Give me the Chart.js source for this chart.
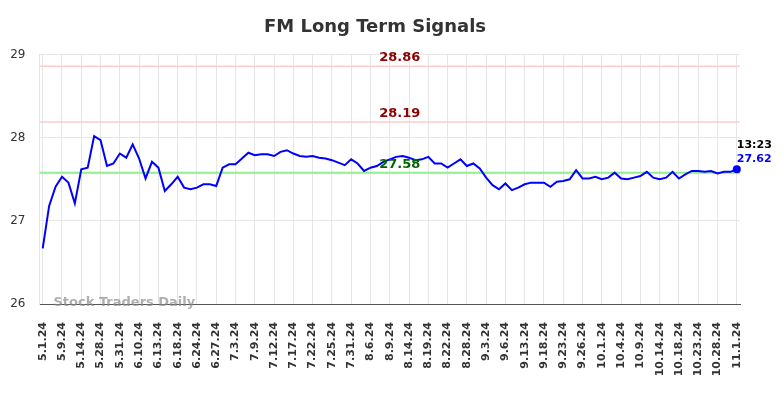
<!DOCTYPE html>
<html><head><meta charset="utf-8">
<script src="https://cdn.jsdelivr.net/npm/chart.js@4.4.1/dist/chart.umd.min.js"></script>
<style>html,body{margin:0;padding:0;background:#fff}</style>
</head><body>
<canvas id="c" width="784" height="398"></canvas>
<script>
const dates = [
"5.1.24","5.3.24","5.7.24","5.9.24","5.10.24","5.13.24","5.14.24","5.20.24","5.23.24",
"5.28.24","5.29.24","5.30.24","5.31.24","6.4.24","6.6.24","6.10.24","6.11.24","6.12.24",
"6.13.24","6.14.24","6.17.24","6.18.24","6.20.24","6.21.24","6.24.24","6.25.24","6.26.24",
"6.27.24","6.28.24","7.1.24","7.3.24","7.5.24","7.8.24","7.9.24","7.10.24","7.11.24",
"7.12.24","7.15.24","7.16.24","7.17.24","7.18.24","7.19.24","7.22.24","7.23.24","7.24.24",
"7.25.24","7.26.24","7.29.24","7.31.24","8.1.24","8.5.24","8.6.24","8.7.24","8.8.24",
"8.9.24","8.12.24","8.13.24","8.14.24","8.15.24","8.16.24","8.19.24","8.20.24","8.21.24",
"8.22.24","8.23.24","8.26.24","8.28.24","8.29.24","8.30.24","9.3.24","9.4.24","9.5.24",
"9.6.24","9.10.24","9.11.24","9.13.24","9.16.24","9.17.24","9.18.24","9.19.24","9.20.24",
"9.23.24","9.24.24","9.25.24","9.26.24","9.27.24","9.30.24","10.1.24","10.2.24","10.3.24",
"10.4.24","10.7.24","10.8.24","10.9.24","10.10.24","10.11.24","10.14.24","10.15.24","10.17.24",
"10.18.24","10.21.24","10.22.24","10.23.24","10.24.24","10.25.24","10.28.24","10.29.24","10.31.24",
"11.1.24"];
const prices = [
26.67,27.18,27.41,27.53,27.46,27.21,27.62,27.64,28.02,
27.97,27.66,27.69,27.81,27.76,27.92,27.75,27.51,27.71,
27.64,27.36,27.44,27.53,27.40,27.38,27.40,27.44,27.44,
27.42,27.64,27.68,27.68,27.75,27.82,27.79,27.80,27.80,
27.78,27.83,27.85,27.81,27.78,27.77,27.78,27.76,27.75,
27.73,27.70,27.67,27.74,27.69,27.60,27.64,27.66,27.71,
27.74,27.77,27.78,27.76,27.73,27.74,27.77,27.69,27.69,
27.64,27.69,27.74,27.66,27.69,27.63,27.52,27.43,27.38,
27.45,27.37,27.40,27.44,27.46,27.46,27.46,27.41,27.47,
27.48,27.50,27.61,27.51,27.51,27.53,27.50,27.52,27.58,
27.51,27.50,27.52,27.54,27.59,27.52,27.50,27.52,27.59,
27.51,27.56,27.60,27.60,27.59,27.60,27.57,27.59,27.59,
27.62];
const yTicks = [26, 27, 28, 29];
const levelValues = [28.86, 28.19, 27.58];
const levelLineColors = ["#ffcccc", "#ffcccc", "#90ee90"];
const levelTextColors = ["#8b0000", "#8b0000", "#006400"];
const lastTime = "13:23";
const watermark = "Stock Traders Daily";
const tickEvery = 3;

const FONT = "'DejaVu Sans', sans-serif";

const overlay = {
  id: 'overlay',
  beforeDatasetsDraw(chart) {
    const ctx = chart.ctx, a = chart.chartArea, y = chart.scales.y;
    ctx.save();
    levelValues.forEach((v, i) => {
      const py = y.getPixelForValue(v);
      ctx.strokeStyle = levelLineColors[i];
      ctx.lineWidth = i === 2 ? 2 : 1.6;
      ctx.beginPath(); ctx.moveTo(a.left, py); ctx.lineTo(a.right, py); ctx.stroke();
    });
    ctx.restore();
  },
  afterDatasetsDraw(chart) {
    const ctx = chart.ctx, a = chart.chartArea, y = chart.scales.y, x = chart.scales.x;
    ctx.save();
    const cx = (a.left + a.right) / 2 + 10;
    ctx.font = "bold 13px " + FONT;
    ctx.textAlign = 'center'; ctx.textBaseline = 'bottom';
    levelValues.forEach((v, i) => {
      const py = y.getPixelForValue(v);
      ctx.fillStyle = levelTextColors[i];
      ctx.fillText(v.toFixed(2), cx, py - 2);
    });
    const li = prices.length - 1;
    const px = x.getPixelForValue(li), py = y.getPixelForValue(prices[li]);
    ctx.fillStyle = '#0000ff';
    ctx.beginPath(); ctx.arc(px, py, 4, 0, Math.PI * 2); ctx.fill();
    ctx.font = "bold 11px " + FONT;
    ctx.textAlign = 'left'; ctx.textBaseline = 'middle';
    ctx.fillStyle = '#000';
    ctx.fillText(lastTime, px, py - 24);
    ctx.fillStyle = '#0000ff';
    ctx.fillText(prices[li].toFixed(2), px, py - 10);
    ctx.font = "bold 13px " + FONT;
    ctx.fillStyle = 'rgba(140,140,140,0.7)';
    ctx.textAlign = 'left'; ctx.textBaseline = 'middle';
    ctx.fillText(watermark, a.left + 14, a.bottom - 1);
    ctx.restore();
  }
};

new Chart(document.getElementById('c'), {
  type: 'line',
  data: {
    labels: dates,
    datasets: [{
      data: prices,
      borderColor: '#0000ff',
      borderWidth: 2,
      pointRadius: 0,
      tension: 0,
      fill: false
    }]
  },
  options: {
    responsive: false,
    animation: false,
    devicePixelRatio: 1,
    layout: { padding: { left: 10, right: 44, top: 0, bottom: 0 } },
    plugins: {
      legend: { display: false },
      tooltip: { enabled: false },
      title: {
        display: true,
        text: 'FM Long Term Signals',
        color: '#333',
        font: { family: FONT, size: 18, weight: 'bold' },
        padding: { top: 17, bottom: 16 }
      }
    },
    scales: {
      x: {
        offset: true,
        afterFit: s => { s.paddingLeft = 0; s.paddingRight = 0; s.height = 94; },
        grid: { color: '#e6e6e6', drawTicks: false, offset: false },
        border: { color: '#555', width: 1 },
        ticks: {
          autoSkip: false,
          maxRotation: 90, minRotation: 90,
          padding: 18,
          color: '#333',
          font: { family: FONT, size: 11, weight: 'bold' },
          callback: function(v, i) { return i % tickEvery === 0 ? dates[i] : null; }
        }
      },
      y: {
        min: 26, max: 29,
        afterBuildTicks: s => { s.ticks = yTicks.map(v => ({ value: v })); },
        afterFit: s => { s.width = 29.5; },
        grid: { color: '#e6e6e6', drawTicks: false },
        border: { color: '#e6e6e6' },
        ticks: {
          padding: 14,
          color: '#333',
          font: { family: FONT, size: 12 }
        }
      }
    }
  },
  plugins: [overlay]
});
</script>
</body></html>
